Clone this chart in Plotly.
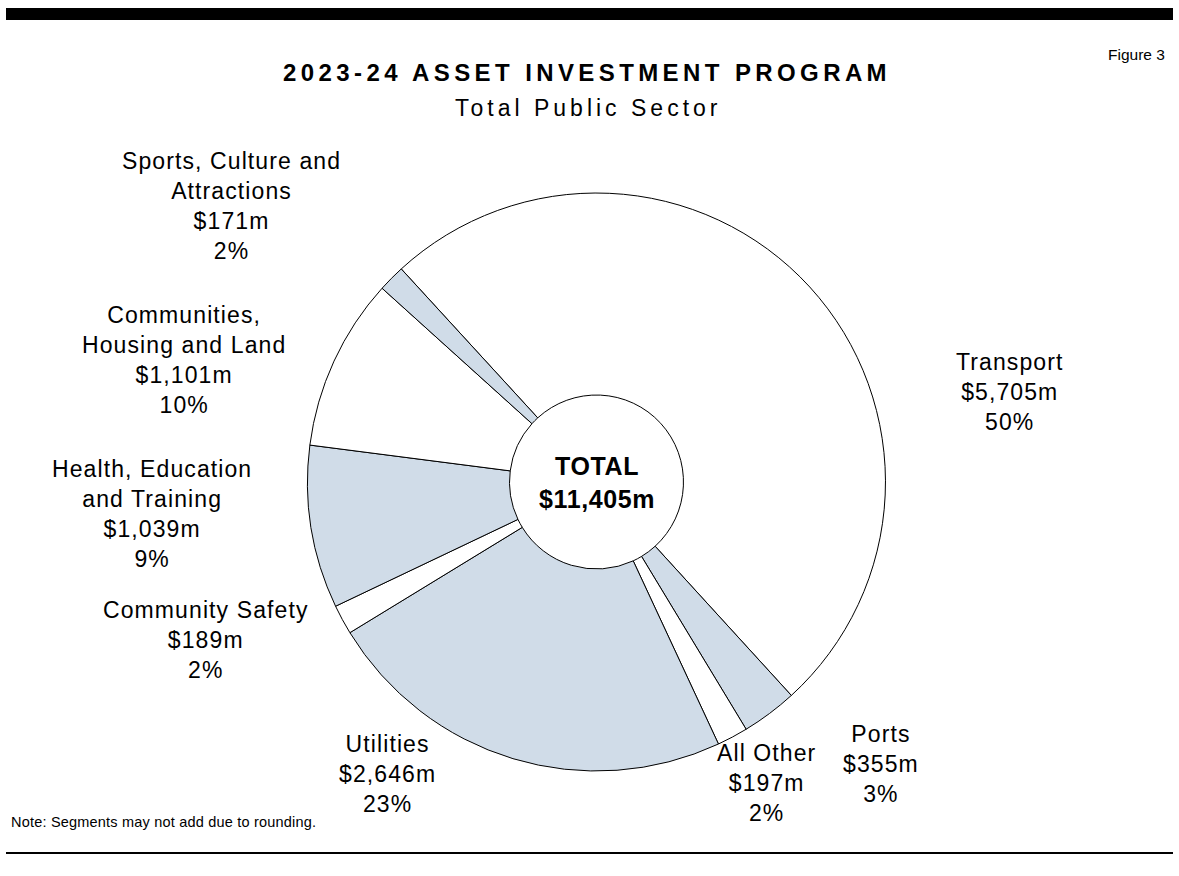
import plotly.graph_objects as go

# Asset Investment Program 2023-24, total public sector ($m)
categories = [
    "Transport", "Ports", "All Other", "Utilities",
    "Community Safety", "Health, Education and Training",
    "Communities, Housing and Land", "Sports, Culture and Attractions",
]
values_m = [5705, 355, 197, 2646, 189, 1039, 1101, 171]
pct_labels = ["50%", "3%", "2%", "23%", "2%", "9%", "10%", "2%"]
label_lines = [
    ["Transport"], ["Ports"], ["All Other"], ["Utilities"],
    ["Community Safety"], ["Health, Education", "and Training"],
    ["Communities,", "Housing and Land"], ["Sports, Culture and", "Attractions"],
]
total_m = 11405

W, H = 1179, 876
FONT = "Liberation Sans, Arial, sans-serif"
BLUE = "rgb(208,220,232)"
fill = ["white", BLUE] * 4


def px_x(x):
    return x / W


def px_y(y):
    return 1 - y / H


def spaced(text, px):
    return f'<span style="letter-spacing:{px}px">{text}</span>'


# pie geometry in pixels
cx, cy, r = 596.5, 482, 289

fig = go.Figure(go.Pie(
    labels=categories,
    values=values_m,
    sort=False,
    direction="clockwise",
    rotation=-42.5,
    hole=0.301,
    textinfo="none",
    hoverinfo="label+value+percent",
    marker=dict(colors=fill, line=dict(color="black", width=1)),
    domain=dict(x=[px_x(cx - r), px_x(cx + r)], y=[px_y(cy + r), px_y(cy - r)]),
    showlegend=False,
))

# label anchor points (centre of each text block), pixels
label_pos = [
    (1009, 392), (881, 764), (766, 783), (387, 774),
    (206, 640), (152, 514), (184, 360), (231, 206),
]

annotations = []
for lines, v, pct, (lx, ly) in zip(label_lines, values_m, pct_labels, label_pos):
    text = "<br>".join(spaced(t, 1.1) for t in lines + [f"${v:,}m", pct])
    annotations.append(dict(
        x=px_x(lx), y=px_y(ly), xref="paper", yref="paper",
        text=text, showarrow=False, align="center",
        xanchor="center", yanchor="middle",
        font=dict(family=FONT, size=23, color="black"),
    ))

# centre total
annotations.append(dict(
    x=px_x(cx), y=px_y(cy), xref="paper", yref="paper",
    text="<br>".join(spaced(f"<b>{t}</b>", 0.6) for t in ["TOTAL", f"${total_m:,}m"]),
    showarrow=False, xanchor="center", yanchor="middle", align="center",
    font=dict(family=FONT, size=25, color="black"),
))

# titles
annotations.append(dict(
    x=px_x(587), y=px_y(72), xref="paper", yref="paper",
    text=spaced("<b>2023-24 ASSET INVESTMENT PROGRAM</b>", 4.4),
    showarrow=False, xanchor="center", yanchor="middle",
    font=dict(family=FONT, size=24, color="black"),
))
annotations.append(dict(
    x=px_x(588), y=px_y(108), xref="paper", yref="paper",
    text=spaced("Total Public Sector", 4.0),
    showarrow=False, xanchor="center", yanchor="middle",
    font=dict(family=FONT, size=23, color="black"),
))
annotations.append(dict(
    x=px_x(1167), y=px_y(55), xref="paper", yref="paper",
    text="Figure 3", showarrow=False, xanchor="right", yanchor="middle",
    font=dict(family=FONT, size=15.5, color="black"),
))
annotations.append(dict(
    x=px_x(9), y=px_y(822), xref="paper", yref="paper",
    text=spaced("Note: Segments may not add due to rounding.", 0.2),
    showarrow=False, xanchor="left", yanchor="middle",
    font=dict(family=FONT, size=14.5, color="black"),
))

shapes = [
    dict(type="rect", xref="paper", yref="paper",
         x0=px_x(6), x1=px_x(1173), y0=px_y(20), y1=px_y(8),
         fillcolor="black", line=dict(width=0)),
    dict(type="line", xref="paper", yref="paper",
         x0=px_x(6), x1=px_x(1173), y0=px_y(853), y1=px_y(853),
         line=dict(color="black", width=2)),
]

fig.update_layout(
    width=W, height=H,
    margin=dict(l=0, r=0, t=0, b=0),
    paper_bgcolor="white", plot_bgcolor="white",
    font=dict(family=FONT, color="black"),
    annotations=annotations,
    shapes=shapes,
)

fig.write_html("out.html")
